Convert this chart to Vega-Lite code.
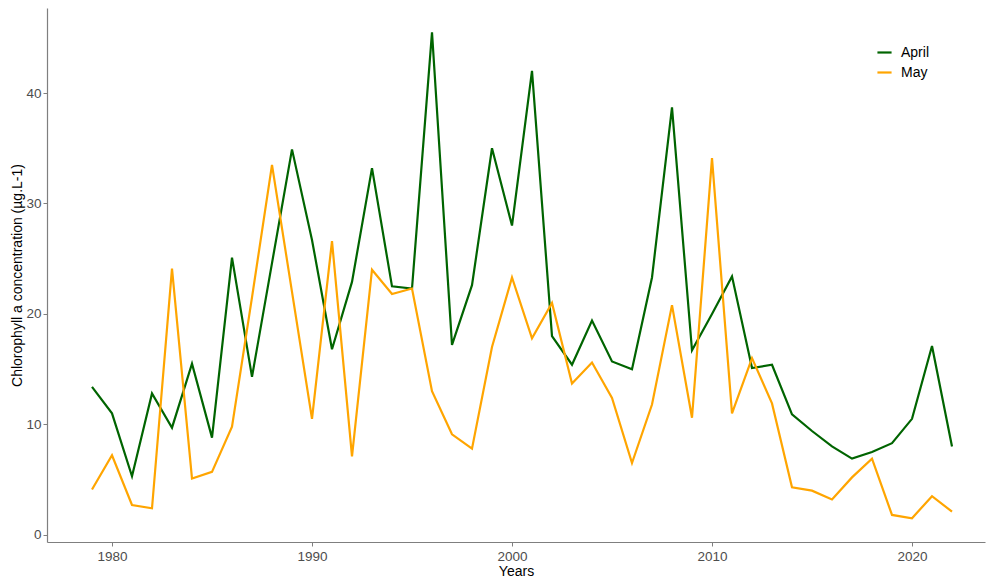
{
  "$schema": "https://vega.github.io/schema/vega-lite/v6.json",
  "width": 938,
  "height": 534,
  "autosize": {"type": "none"},
  "padding": {"left": 47, "top": 8, "right": 2, "bottom": 39},
  "background": "white",
  "config": {
    "view": {"stroke": null},
    "font": "Liberation Sans"
  },
  "data": {
    "values": [
      {"year": 1979, "month": "April", "chl": 13.4},
      {"year": 1980, "month": "April", "chl": 11.0},
      {"year": 1981, "month": "April", "chl": 5.3},
      {"year": 1982, "month": "April", "chl": 12.8},
      {"year": 1983, "month": "April", "chl": 9.7},
      {"year": 1984, "month": "April", "chl": 15.5},
      {"year": 1985, "month": "April", "chl": 8.8},
      {"year": 1986, "month": "April", "chl": 25.1},
      {"year": 1987, "month": "April", "chl": 14.3},
      {"year": 1988, "month": "April", "chl": 24.6},
      {"year": 1989, "month": "April", "chl": 34.9},
      {"year": 1990, "month": "April", "chl": 26.7},
      {"year": 1991, "month": "April", "chl": 16.8},
      {"year": 1992, "month": "April", "chl": 22.9},
      {"year": 1993, "month": "April", "chl": 33.2},
      {"year": 1994, "month": "April", "chl": 22.5},
      {"year": 1995, "month": "April", "chl": 22.3},
      {"year": 1996, "month": "April", "chl": 45.5},
      {"year": 1997, "month": "April", "chl": 17.2},
      {"year": 1998, "month": "April", "chl": 22.6},
      {"year": 1999, "month": "April", "chl": 35.0},
      {"year": 2000, "month": "April", "chl": 28.0},
      {"year": 2001, "month": "April", "chl": 42.0},
      {"year": 2002, "month": "April", "chl": 18.0},
      {"year": 2003, "month": "April", "chl": 15.4},
      {"year": 2004, "month": "April", "chl": 19.4},
      {"year": 2005, "month": "April", "chl": 15.7},
      {"year": 2006, "month": "April", "chl": 15.0},
      {"year": 2007, "month": "April", "chl": 23.3},
      {"year": 2008, "month": "April", "chl": 38.7},
      {"year": 2009, "month": "April", "chl": 16.7},
      {"year": 2010, "month": "April", "chl": 20.0},
      {"year": 2011, "month": "April", "chl": 23.4},
      {"year": 2012, "month": "April", "chl": 15.1},
      {"year": 2013, "month": "April", "chl": 15.4},
      {"year": 2014, "month": "April", "chl": 10.9},
      {"year": 2015, "month": "April", "chl": 9.4},
      {"year": 2016, "month": "April", "chl": 8.0},
      {"year": 2017, "month": "April", "chl": 6.9},
      {"year": 2018, "month": "April", "chl": 7.5},
      {"year": 2019, "month": "April", "chl": 8.3},
      {"year": 2020, "month": "April", "chl": 10.5},
      {"year": 2021, "month": "April", "chl": 17.1},
      {"year": 2022, "month": "April", "chl": 8.0},
      {"year": 1979, "month": "May", "chl": 4.1},
      {"year": 1980, "month": "May", "chl": 7.2},
      {"year": 1981, "month": "May", "chl": 2.7},
      {"year": 1982, "month": "May", "chl": 2.4},
      {"year": 1983, "month": "May", "chl": 24.1},
      {"year": 1984, "month": "May", "chl": 5.1},
      {"year": 1985, "month": "May", "chl": 5.7},
      {"year": 1986, "month": "May", "chl": 9.8},
      {"year": 1987, "month": "May", "chl": 21.5},
      {"year": 1988, "month": "May", "chl": 33.5},
      {"year": 1989, "month": "May", "chl": 22.0},
      {"year": 1990, "month": "May", "chl": 10.5},
      {"year": 1991, "month": "May", "chl": 26.6},
      {"year": 1992, "month": "May", "chl": 7.1},
      {"year": 1993, "month": "May", "chl": 24.0},
      {"year": 1994, "month": "May", "chl": 21.8},
      {"year": 1995, "month": "May", "chl": 22.3},
      {"year": 1996, "month": "May", "chl": 13.0},
      {"year": 1997, "month": "May", "chl": 9.1},
      {"year": 1998, "month": "May", "chl": 7.8},
      {"year": 1999, "month": "May", "chl": 17.0},
      {"year": 2000, "month": "May", "chl": 23.3},
      {"year": 2001, "month": "May", "chl": 17.8},
      {"year": 2002, "month": "May", "chl": 21.0},
      {"year": 2003, "month": "May", "chl": 13.7},
      {"year": 2004, "month": "May", "chl": 15.6},
      {"year": 2005, "month": "May", "chl": 12.4},
      {"year": 2006, "month": "May", "chl": 6.5},
      {"year": 2007, "month": "May", "chl": 11.8},
      {"year": 2008, "month": "May", "chl": 20.8},
      {"year": 2009, "month": "May", "chl": 10.6},
      {"year": 2010, "month": "May", "chl": 34.1},
      {"year": 2011, "month": "May", "chl": 11.0},
      {"year": 2012, "month": "May", "chl": 16.0},
      {"year": 2013, "month": "May", "chl": 11.9},
      {"year": 2014, "month": "May", "chl": 4.3},
      {"year": 2015, "month": "May", "chl": 4.0},
      {"year": 2016, "month": "May", "chl": 3.2},
      {"year": 2017, "month": "May", "chl": 5.2},
      {"year": 2018, "month": "May", "chl": 6.9},
      {"year": 2019, "month": "May", "chl": 1.8},
      {"year": 2020, "month": "May", "chl": 1.5},
      {"year": 2021, "month": "May", "chl": 3.5},
      {"year": 2022, "month": "May", "chl": 2.1}
    ]
  },
  "mark": {"type": "line", "strokeWidth": 2.2, "clip": true},
  "encoding": {
    "x": {
      "field": "year",
      "type": "quantitative",
      "scale": {"domain": [1976.75, 2023.65], "nice": false, "zero": false},
      "axis": {
        "title": "Years",
        "values": [1980, 1990, 2000, 2010, 2020],
        "format": "d",
        "grid": false,
        "domainColor": "#7f7f7f",
        "domainWidth": 1.2,
        "tickColor": "#7f7f7f",
        "tickSize": 4,
        "labelColor": "#4d4d4d",
        "labelFontSize": 13.5,
        "labelPadding": 3,
        "titleColor": "#000000",
        "titleFontSize": 14,
        "titleFontWeight": "normal",
        "titlePadding": 2
      }
    },
    "y": {
      "field": "chl",
      "type": "quantitative",
      "scale": {"domain": [-0.65, 47.7], "nice": false, "zero": false},
      "axis": {
        "title": "Chlorophyll a concentration (µg.L-1)",
        "values": [0, 10, 20, 30, 40],
        "grid": false,
        "domainColor": "#7f7f7f",
        "domainWidth": 1.2,
        "tickColor": "#7f7f7f",
        "tickSize": 4,
        "labelColor": "#4d4d4d",
        "labelFontSize": 13.5,
        "labelPadding": 2,
        "titleColor": "#000000",
        "titleFontSize": 14,
        "titleFontWeight": "normal",
        "titlePadding": 1
      }
    },
    "color": {
      "field": "month",
      "type": "nominal",
      "scale": {"domain": ["April", "May"], "range": ["#006400", "#FFA500"]},
      "legend": {
        "title": null,
        "orient": "none",
        "legendX": 829,
        "legendY": 36,
        "symbolType": "stroke",
        "symbolStrokeWidth": 2.2,
        "symbolSize": 200,
        "labelFontSize": 14,
        "labelColor": "#000000",
        "rowPadding": 4,
        "labelOffset": 8
      }
    }
  }
}
